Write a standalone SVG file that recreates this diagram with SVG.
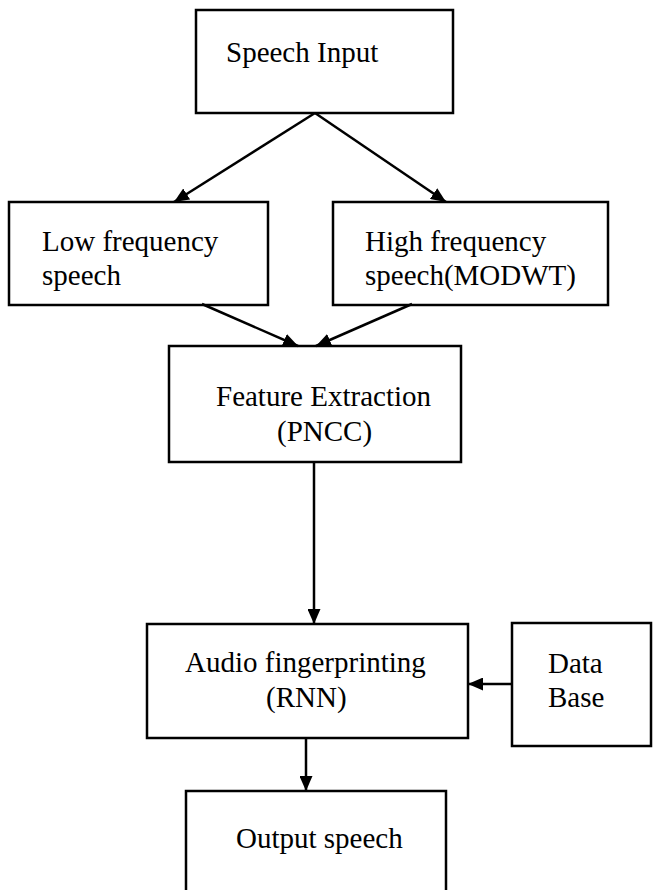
<svg xmlns="http://www.w3.org/2000/svg" width="654" height="890" viewBox="0 0 654 890">
<defs>
<style>
.box{fill:#fff;stroke:#000;stroke-width:2.5}
.t{font-family:"Liberation Serif","Times New Roman",serif;font-size:29px;fill:#000}
.c{stroke:#000;stroke-width:2.5;fill:none}
</style>
<marker id="ah" markerUnits="userSpaceOnUse" markerWidth="15" markerHeight="13" refX="15" refY="6.5" orient="auto">
<path d="M0,0 L15,6.5 L0,13 z" fill="#000"/>
</marker>
</defs>
<rect width="654" height="890" fill="#fff"/>
<g id="speech-input">
<rect class="box" x="196" y="10" width="257" height="103"/>
<text class="t" x="226" y="62">Speech Input</text>
</g>
<g id="low-frequency">
<rect class="box" x="9" y="202" width="259" height="103"/>
<text class="t" x="42" y="251">Low frequency</text>
<text class="t" x="42" y="285">speech</text>
</g>
<g id="high-frequency">
<rect class="box" x="333" y="202" width="275" height="103"/>
<text class="t" x="365" y="251">High frequency</text>
<text class="t" x="365" y="285">speech(MODWT)</text>
</g>
<g id="feature-extraction">
<rect class="box" x="169" y="346" width="292" height="116"/>
<text class="t" x="216" y="406">Feature Extraction</text>
<text class="t" x="277" y="441">(PNCC)</text>
</g>
<g id="audio-fingerprinting">
<rect class="box" x="147" y="624" width="321" height="114"/>
<text class="t" x="185" y="672">Audio fingerprinting</text>
<text class="t" x="266" y="707">(RNN)</text>
</g>
<g id="data-base">
<rect class="box" x="512" y="623" width="139" height="123"/>
<text class="t" x="548" y="673">Data</text>
<text class="t" x="548" y="707">Base</text>
</g>
<g id="output-speech">
<rect class="box" x="186" y="791" width="260" height="110"/>
<text class="t" x="236" y="848">Output speech</text>
</g>
<g id="connectors">
<line class="c" x1="315" y1="113" x2="174" y2="202" marker-end="url(#ah)"/>
<line class="c" x1="315" y1="113" x2="446" y2="202" marker-end="url(#ah)"/>
<line class="c" x1="202" y1="304" x2="298" y2="346" marker-end="url(#ah)"/>
<line class="c" x1="412" y1="304" x2="316" y2="346" marker-end="url(#ah)"/>
<line class="c" x1="314" y1="462" x2="314" y2="624" marker-end="url(#ah)"/>
<line class="c" x1="512" y1="684" x2="468" y2="684" marker-end="url(#ah)"/>
<line class="c" x1="306" y1="738" x2="306" y2="791" marker-end="url(#ah)"/>
</g>
</svg>
